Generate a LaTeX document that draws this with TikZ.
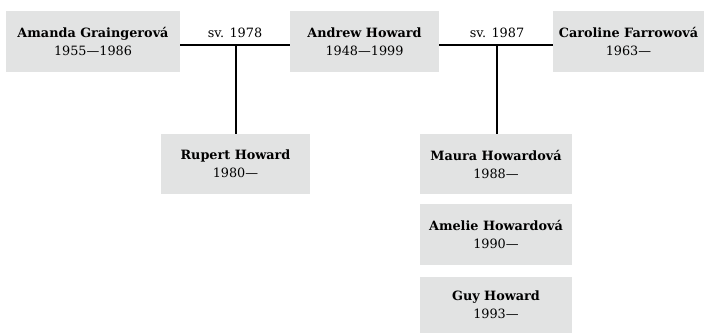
\documentclass[tikz,border=0pt]{standalone}
\usepackage{fontspec}
\setmainfont{DejaVu Serif}
\definecolor{boxgray}{HTML}{E2E3E3}
\begin{document}
\begin{tikzpicture}[x=1pt,y=-1pt,
  person/.style={fill=boxgray, draw=none, align=center, inner sep=0pt, font=\fontsize{12.8}{18}\selectfont},
  link/.style={draw=black, line width=1.1pt},
  mlabel/.style={font=\fontsize{12.8}{15}\selectfont, inner sep=0pt}]
\useasboundingbox (0,0) rectangle (704,333);
\node[person, minimum width=174, minimum height=61] (amanda) at (93,41.5) {\textbf{Amanda Graingerová}\\1955—1986};
\node[person, minimum width=149, minimum height=61] (andrew) at (364.5,41.5) {\textbf{Andrew Howard}\\1948—1999};
\node[person, minimum width=151, minimum height=61] (caroline) at (628.5,41.5) {\textbf{Caroline Farrowová}\\1963—};
\node[person, minimum width=149, minimum height=60] (rupert) at (235.5,164) {\textbf{Rupert Howard}\\1980—};
\node[person, minimum width=152, minimum height=60] (maura) at (496,164) {\textbf{Maura Howardová}\\1988—};
\node[person, minimum width=152, minimum height=61] (amelie) at (496,234.5) {\textbf{Amelie Howardová}\\1990—};
\node[person, minimum width=152, minimum height=56] (guy) at (496,305) {\textbf{Guy Howard}\\1993—};
\coordinate (j1) at (236,45);
\coordinate (j2) at (497,45);
\draw[link] (amanda.east |- j1) -- (andrew.west |- j1);
\draw[link] (andrew.east |- j2) -- (caroline.west |- j2);
\draw[link] (j1) -- (j1 |- rupert.north);
\draw[link] (j2) -- (j2 |- maura.north);
\node[mlabel] (l1) at (235,33) {sv. 1978};
\node[mlabel] (l2) at (497,33) {sv. 1987};
\end{tikzpicture}
\end{document}
